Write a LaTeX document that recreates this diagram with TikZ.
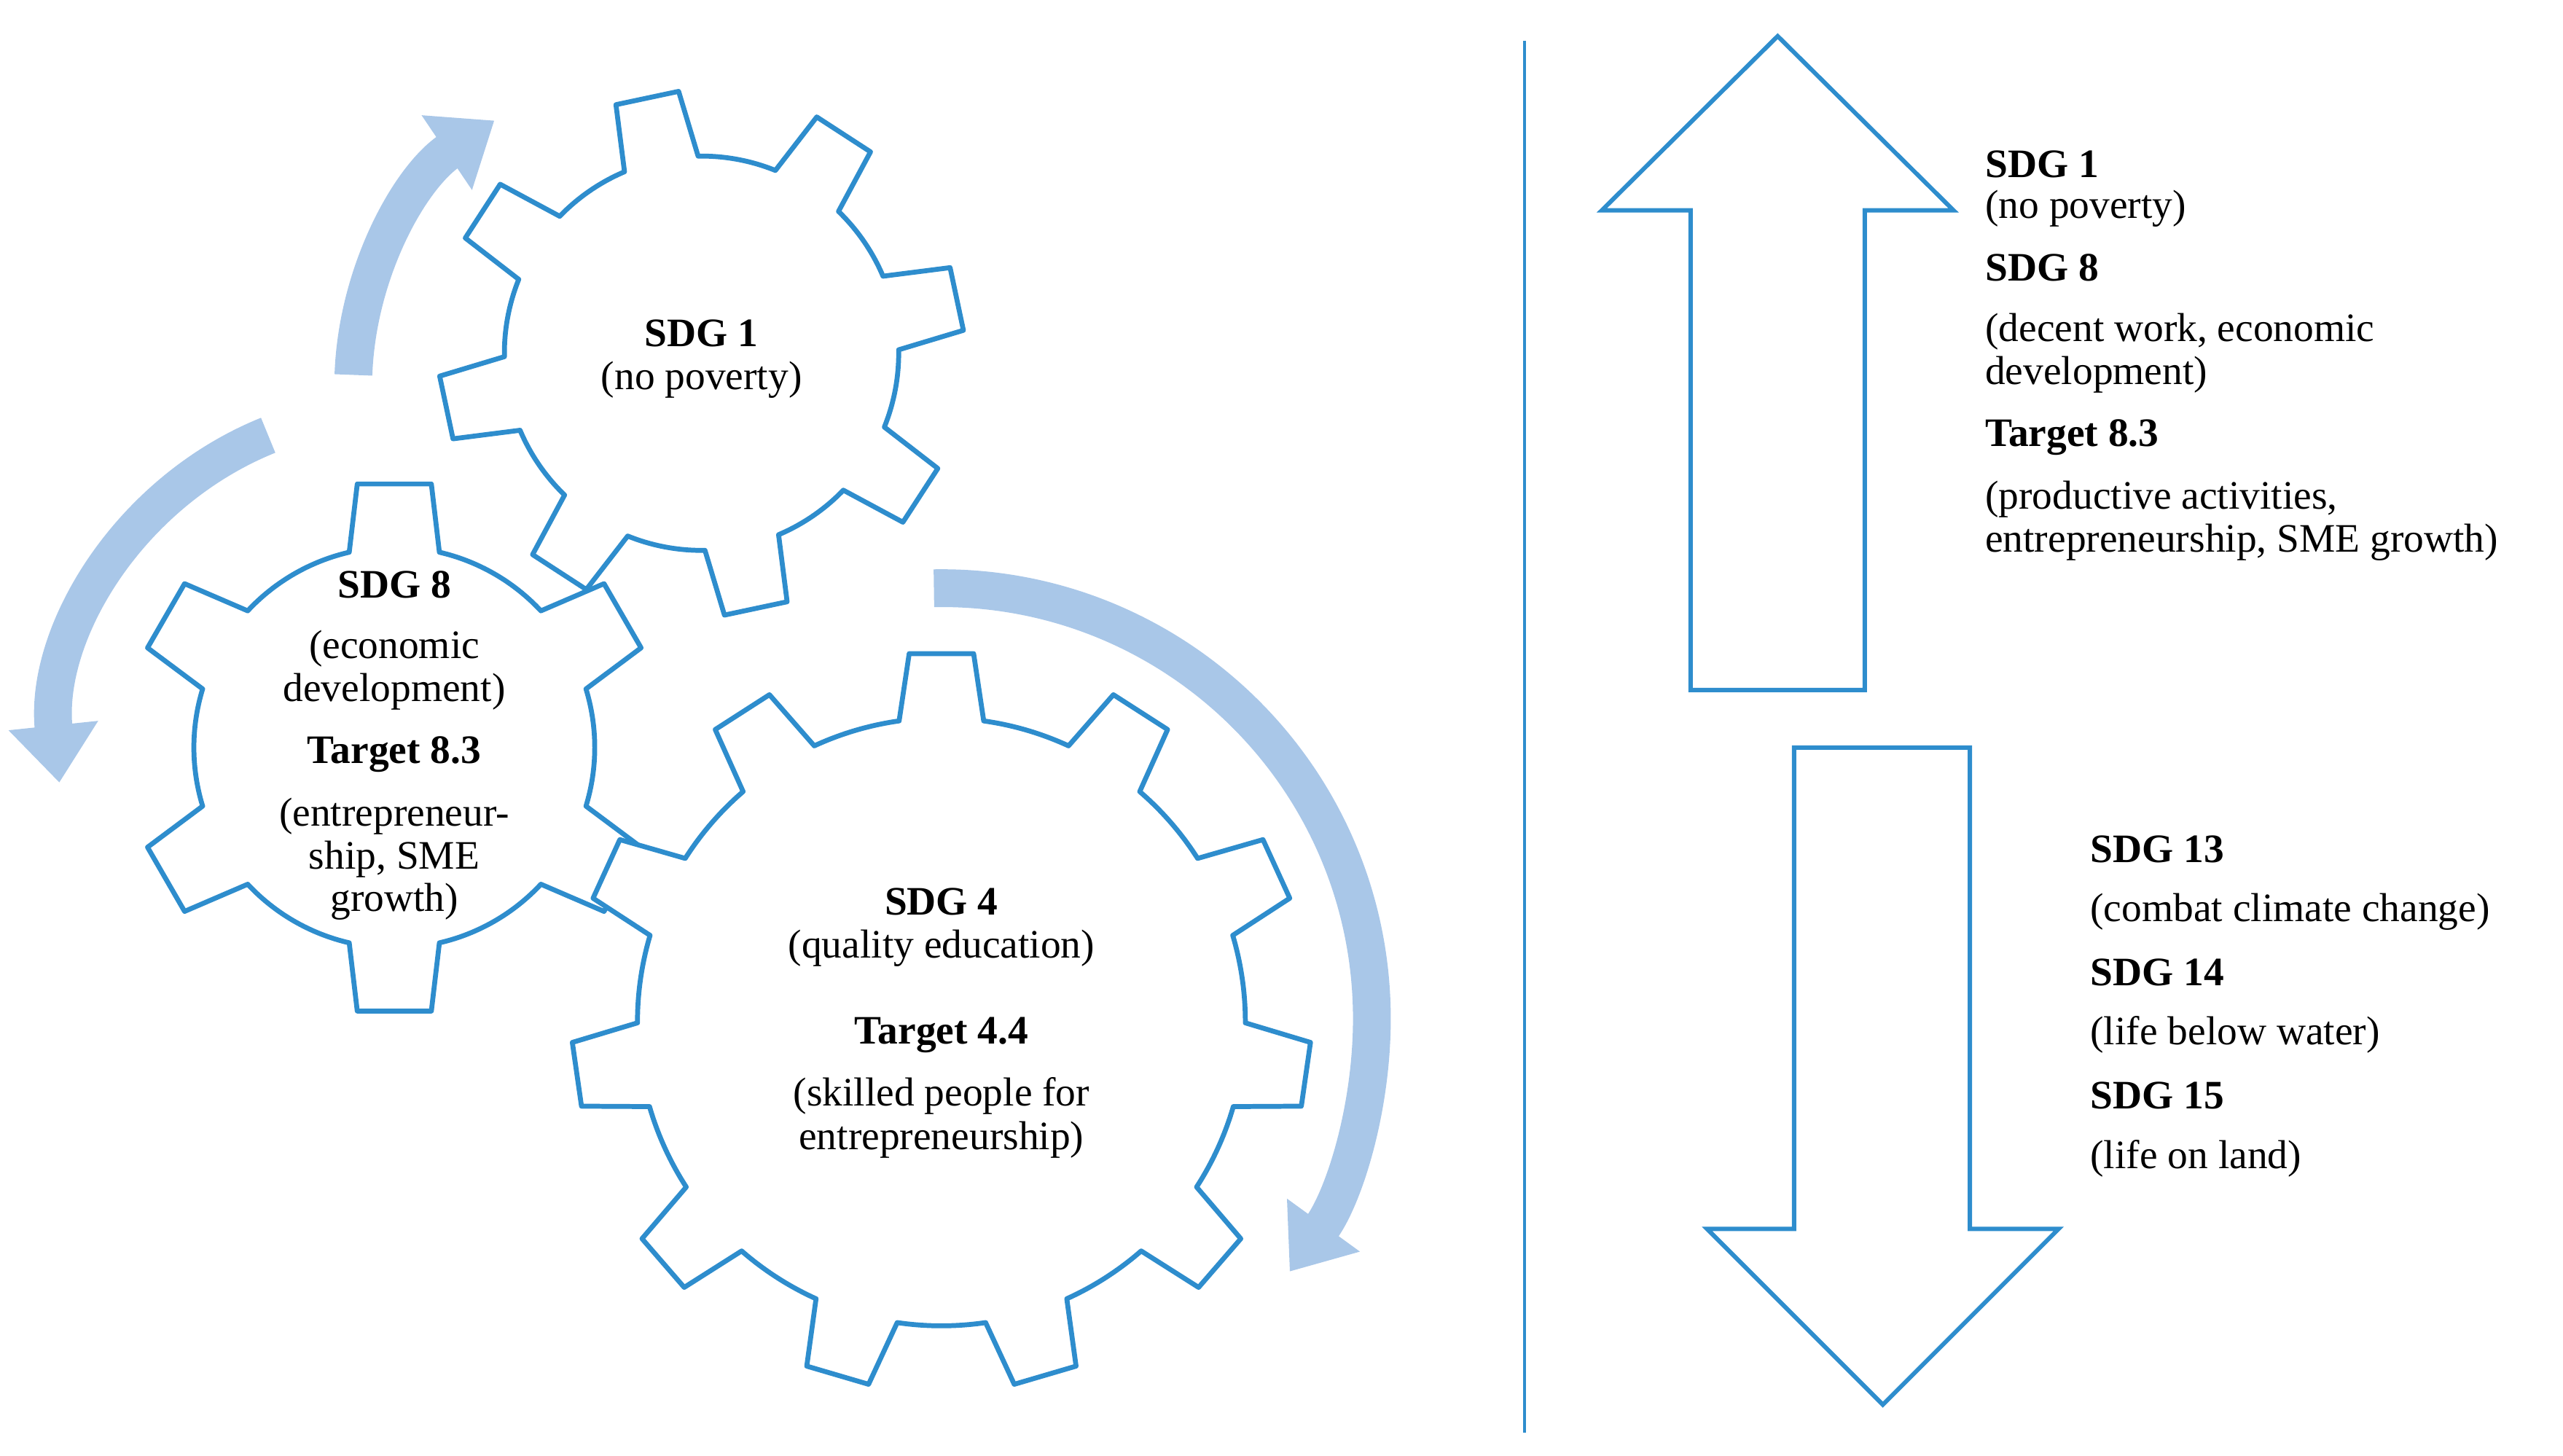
\documentclass[tikz,border=0pt]{standalone}
\usepackage{fontspec}
\setmainfont{Liberation Serif}
\usetikzlibrary{arrows.meta}
\definecolor{gb}{HTML}{2E8DCD}
\definecolor{lb}{HTML}{A9C7E8}
\tikzset{gear/.style={draw=gb,fill=white,line width=1.7pt,line join=round},
 carr/.style={lb,line width=0.46cm,-{Triangle[width=1.05cm,length=0.7cm]}},
 big/.style={draw=gb,line width=1.5pt,line join=miter},
 t/.style={font=\fontsize{14}{16}\selectfont,inner sep=0pt},
 tb/.style={t,font=\fontsize{14}{16}\selectfont\bfseries},
 tl/.style={t,anchor=west},tbl/.style={tb,anchor=west}}
\newcommand{\mygear}[7]{% cx cy n r R wa wb offset in #7
 \draw[gear,shift={(#1,#2)}] ({#7-#6}:#4) \foreach \i in {0,...,\numexpr#3-1\relax}{
  -- ({#7+\i*360/#3-#5}:#4+40) -- ({#7+\i*360/#3+#5}:#4+40) -- ({#7+\i*360/#3+#6}:#4)
  arc[start angle={#7+\i*360/#3+#6}, end angle={#7+(\i+1)*360/#3-#6}, radius=#4]} -- cycle;}
\begin{document}
\begin{tikzpicture}[x=0.02cm,y=0.02cm]
\useasboundingbox (0,0) rectangle (1560,-886);
% curved arrows
\draw[carr] (410,-235) ++(178:195) arc[start angle=178,end angle=124,radius=195];
\draw[carr] (240,-455) ++(112:205) arc[start angle=112,end angle=186,radius=205];
\draw[carr] (573,-620) ++(91:262) arc[start angle=91,end angle=-36,radius=262];
% gears
\mygear{427}{-215}{8}{120}{7}{11}{102}
\mygear{240}{-455}{6}{122}{8}{13}{90}
\mygear{573}{-622}{11}{185}{5}{8}{90}
% gear texts
\node[tb] (g1a) at (427,-203) {SDG 1};
\node[t] (g1b) at (427,-231) {(no poverty)};
\node[tb] (g8a) at (240,-356) {SDG 8};
\node[t] (g8b) at (240,-395) {(economic};
\node[t] (g8c) at (240,-421) {development)};
\node[tb] (g8d) at (240,-459) {Target 8.3};
\node[t] (g8e) at (240,-497) {(entrepreneur-};
\node[t] (g8f) at (240,-523) {ship, SME};
\node[t] (g8g) at (240,-549) {growth)};
\node[tb] (g4a) at (573,-549) {SDG 4};
\node[t] (g4b) at (573,-577) {(quality education)};
\node[tb] (g4c) at (573,-630) {Target 4.4};
\node[t] (g4d) at (573,-667) {(skilled people for};
\node[t] (g4e) at (573,-694) {entrepreneurship)};
% divider
\draw[gb,line width=1pt] (928,-25) -- (928,-872);
% big arrows
\draw[big] (1082,-22) -- (1189,-128) -- (1135,-128) -- (1135,-420) -- (1029,-420) -- (1029,-128) -- (975,-128) -- cycle;
\draw[big] (1146,-855) -- (1253,-748) -- (1199,-748) -- (1199,-455) -- (1092,-455) -- (1092,-748) -- (1039,-748) -- cycle;
% right texts
\node[tbl] (r1) at (1208,-100) {SDG 1};
\node[tl] (r2) at (1208,-127) {(no poverty)};
\node[tbl] (r3) at (1208,-163) {SDG 8};
\node[tl] (r4) at (1208,-202) {(decent work, economic};
\node[tl] (r5) at (1208,-228) {development)};
\node[tbl] (r6) at (1208,-266) {Target 8.3};
\node[tl] (r7) at (1208,-304) {(productive activities,};
\node[tl] (r8) at (1208,-330) {entrepreneurship, SME growth)};
\node[tbl] (s1) at (1272,-517) {SDG 13};
\node[tl] (s2) at (1272,-555) {(combat climate change)};
\node[tbl] (s3) at (1272,-592) {SDG 14};
\node[tl] (s4) at (1272,-630) {(life below water)};
\node[tbl] (s5) at (1272,-667) {SDG 15};
\node[tl] (s6) at (1272,-705) {(life on land)};
\end{tikzpicture}
\end{document}
